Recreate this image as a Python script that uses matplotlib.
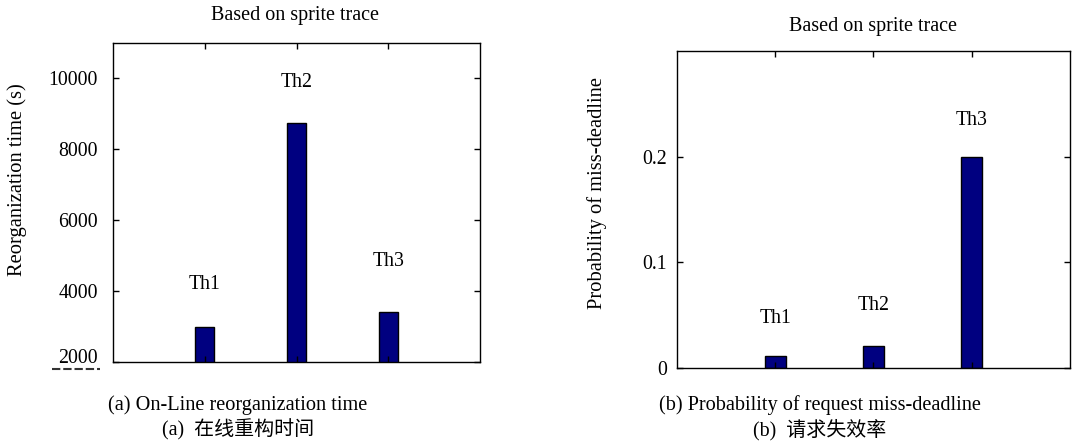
# Two bar charts based on the sprite trace
import matplotlib
matplotlib.use("Agg")
from matplotlib import pyplot as plt
from matplotlib.lines import Line2D
from matplotlib.transforms import ScaledTranslation

plt.rcParams['font.family'] = ['Liberation Serif', 'Noto Sans CJK SC']

# data
labels = ["Th1", "Th2", "Th3"]
reorg_time = [3000, 8750, 3400]              # (a) seconds
miss_prob = [0.012, 0.021, 0.200]            # (b) probability
reorg_label_y = [4180, 9890, 4830]
miss_label_y = [0.047, 0.059, 0.2345]
reorg_ticks = [2000, 4000, 6000, 8000, 10000]
miss_ticks = [0, 0.1, 0.2]
miss_ticklabels = ["0", "0.1", "0.2"]

bar_color = "#000080"
pos = [1, 2, 3]

fig = plt.figure(figsize=(10.72, 4.42), dpi=100)


def style_axes(ax, pad):
    ax.set_xlim(0, 4)
    ax.set_xticks(pos)
    ax.set_xticklabels([])
    ax.tick_params(direction='in', top=True, right=True, length=4,
                   width=1.0, labelsize=14.3, pad=pad)
    for s in ax.spines.values():
        s.set_linewidth(1.0)


# (a) reorganization time
ax1 = fig.add_axes([0.1054, 0.181, 0.3424, 0.7217])
ax1.bar(pos, reorg_time, width=0.21, bottom=0, color=bar_color,
        edgecolor='black', linewidth=1.0)
ax1.set_ylim(2000, 11000)
ax1.set_yticks(reorg_ticks)
style_axes(ax1, 11)
for x, y, t in zip(pos, reorg_label_y, labels):
    ax1.text(x, y, t, ha='center', va='center', fontsize=14.3)

# the lowest label sits a bit above the axis line
lbl = ax1.get_yticklabels()[0]
lbl.set_transform(lbl.get_transform() + ScaledTranslation(0, 4 / 72, fig.dpi_scale_trans))

# (b) miss-deadline probability
ax2 = fig.add_axes([0.6315, 0.1667, 0.3666, 0.7186])
ax2.bar(pos, miss_prob, width=0.21, color=bar_color,
        edgecolor='black', linewidth=1.0)
ax2.set_ylim(0, 0.3)
ax2.set_yticks(miss_ticks)
ax2.set_yticklabels(miss_ticklabels)
style_axes(ax2, 7)
for x, y, t in zip(pos, miss_label_y, labels):
    ax2.text(x, y, t, ha='center', va='center', fontsize=14.3)

# titles, axis labels and captions
fig.text(0.275, 0.964, "Based on sprite trace", ha='center', va='center', fontsize=14.5)
fig.text(0.814, 0.940, "Based on sprite trace", ha='center', va='center', fontsize=14.5)
fig.text(0.0159, 0.593, "Reorganization time (s)", rotation=90,
         ha='center', va='center', fontsize=14.8)
fig.text(0.557, 0.563, "Probability of miss-deadline", rotation=90,
         ha='center', va='center', fontsize=14.8)

fig.text(0.222, 0.0837, "(a) On-Line reorganization time", ha='center', va='center', fontsize=14.6)
fig.text(0.222, 0.027, "(a)  在线重构时间", ha='center', va='center', fontsize=14.4)
fig.text(0.765, 0.0837, "(b) Probability of request miss-deadline", ha='center', va='center', fontsize=14.6)
fig.text(0.765, 0.027, "(b)  请求失效率", ha='center', va='center', fontsize=14.4)

# small dashed mark under the 2000 label
fig.add_artist(Line2D([52 / 1072, 100 / 1072], [1 - 369 / 442, 1 - 369 / 442],
                      transform=fig.transFigure, color='#333333',
                      linestyle=(0, (4, 1.4)), linewidth=1.5))

fig.savefig("out.png", dpi=100)
